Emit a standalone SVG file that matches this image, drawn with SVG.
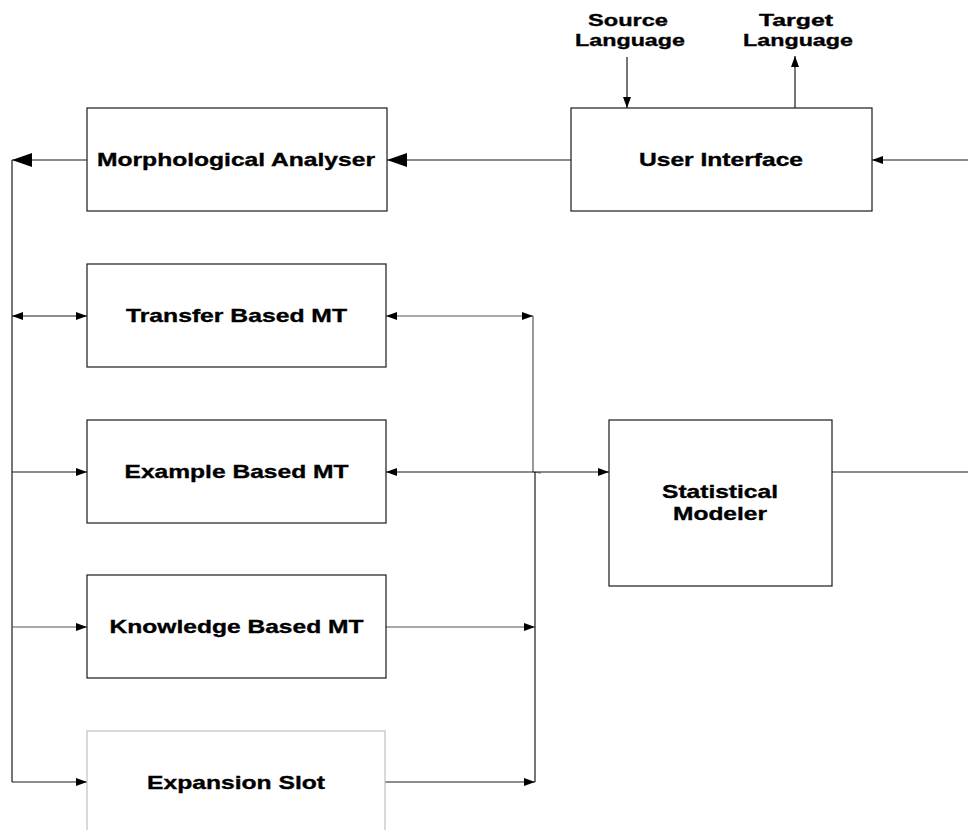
<svg xmlns="http://www.w3.org/2000/svg" width="968" height="830" viewBox="0 0 968 830">
<style>
  .box { fill: #fff; stroke: #1a1a1a; stroke-width: 1.2; }
  .lbl { font-family: "Liberation Sans", Arial, sans-serif; font-weight: bold; font-size: 18.5px; fill: #000; stroke: #000; stroke-width: 0.35; text-anchor: middle; }
  .top { font-size: 17px; }
  .ln { fill: none; stroke: #1a1a1a; stroke-width: 1.2; }
  .gr { stroke: #555; }
</style>
<defs>
  <marker id="big" markerUnits="userSpaceOnUse" markerWidth="20" markerHeight="14" refX="20" refY="7" orient="auto">
    <path d="M0,0 L20,7 L0,14 z" fill="#000"/>
  </marker>
  <marker id="sm" markerUnits="userSpaceOnUse" markerWidth="11" markerHeight="8" refX="11" refY="4" orient="auto">
    <path d="M0,0 L11,4 L0,8 z" fill="#000"/>
  </marker>
  <marker id="smr" markerUnits="userSpaceOnUse" markerWidth="11" markerHeight="8" refX="0" refY="4" orient="auto">
    <path d="M11,0 L0,4 L11,8 z" fill="#000"/>
  </marker>
</defs>

<g id="connectors">
  <line class="ln" x1="571" y1="160" x2="387" y2="160" marker-end="url(#big)"/>
  <line class="ln" x1="87" y1="160" x2="12" y2="160" marker-end="url(#big)"/>
  <line class="ln" x1="968" y1="160" x2="872" y2="160" marker-end="url(#sm)"/>
  <line class="ln" x1="627" y1="57" x2="627" y2="108" marker-end="url(#sm)"/>
  <line class="ln" x1="795" y1="108" x2="795" y2="56" marker-end="url(#sm)"/>
  <line class="ln" x1="12" y1="160" x2="12" y2="782"/>
  <line class="ln" x1="12" y1="316" x2="87" y2="316" marker-start="url(#smr)" marker-end="url(#sm)"/>
  <line class="ln gr" x1="386" y1="316" x2="533" y2="316" marker-start="url(#smr)" marker-end="url(#sm)"/>
  <line class="ln gr" x1="533" y1="316" x2="533" y2="472"/>
  <line class="ln" x1="386" y1="472" x2="609" y2="472" marker-start="url(#smr)" marker-end="url(#sm)"/>
  <line class="ln gr" x1="533" y1="472" x2="541" y2="473"/>
  <line class="ln" x1="535" y1="472" x2="535" y2="782"/>
  <line class="ln" x1="12" y1="472" x2="87" y2="472" marker-end="url(#sm)"/>
  <line class="ln gr" x1="12" y1="627" x2="87" y2="627" marker-end="url(#sm)"/>
  <line class="ln" x1="12" y1="782" x2="87" y2="782" marker-end="url(#sm)"/>
  <line class="ln gr" x1="386" y1="627" x2="535" y2="627" marker-end="url(#sm)"/>
  <line class="ln" x1="385" y1="782" x2="535" y2="782" marker-end="url(#sm)"/>
  <line class="ln" x1="832" y1="472" x2="968" y2="472"/>
</g>

<g id="source-label">
  <text class="lbl top" x="628" y="26" textLength="80" lengthAdjust="spacingAndGlyphs">Source</text>
  <text class="lbl top" x="630" y="46" textLength="110" lengthAdjust="spacingAndGlyphs">Language</text>
</g>
<g id="target-label">
  <text class="lbl top" x="796" y="26" textLength="74" lengthAdjust="spacingAndGlyphs">Target</text>
  <text class="lbl top" x="798" y="46" textLength="110" lengthAdjust="spacingAndGlyphs">Language</text>
</g>

<g id="morph">
  <rect class="box" x="87" y="108" width="300" height="103"/>
  <text class="lbl" x="236" y="166" textLength="278" lengthAdjust="spacingAndGlyphs">Morphological Analyser</text>
</g>
<g id="ui">
  <rect class="box" x="571" y="108" width="301" height="103"/>
  <text class="lbl" x="721" y="166" textLength="164" lengthAdjust="spacingAndGlyphs">User Interface</text>
</g>
<g id="transfer">
  <rect class="box" x="87" y="264" width="299" height="103"/>
  <text class="lbl" x="236.5" y="322" textLength="221" lengthAdjust="spacingAndGlyphs">Transfer Based MT</text>
</g>
<g id="example">
  <rect class="box" x="87" y="420" width="299" height="103"/>
  <text class="lbl" x="236.5" y="478" textLength="224" lengthAdjust="spacingAndGlyphs">Example Based MT</text>
</g>
<g id="statistical">
  <rect class="box" x="609" y="420" width="223" height="166"/>
  <text class="lbl" x="720" y="498" textLength="116" lengthAdjust="spacingAndGlyphs">Statistical</text>
  <text class="lbl" x="720" y="520" textLength="94" lengthAdjust="spacingAndGlyphs">Modeler</text>
</g>
<g id="knowledge">
  <rect class="box" x="87" y="575" width="299" height="103"/>
  <text class="lbl" x="236.5" y="633" textLength="254" lengthAdjust="spacingAndGlyphs">Knowledge Based MT</text>
</g>
<g id="expansion">
  <rect class="box" x="87" y="731" width="298" height="110" style="stroke:#c0c0c0"/>
  <text class="lbl" x="236" y="789" textLength="178" lengthAdjust="spacingAndGlyphs">Expansion Slot</text>
</g>
</svg>
